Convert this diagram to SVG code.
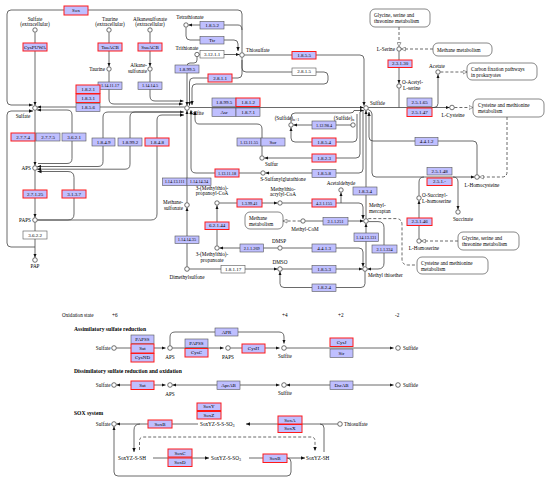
<svg xmlns="http://www.w3.org/2000/svg" width="550" height="484" viewBox="0 0 550 484">
<style>
.ln{fill:none;stroke:#444;stroke-width:0.8}
.ds{fill:none;stroke:#444;stroke-width:0.8;stroke-dasharray:3,2}
.e{fill:#bfbfff;stroke:#555;stroke-width:0.6}
.r{fill:#bfbfff;stroke:#ff1a1a;stroke-width:1}
.w{fill:#fff;stroke:#555;stroke-width:0.6}
.m{fill:#fff;stroke:#555;stroke-width:0.7}
.c{fill:#fff;stroke:#333;stroke-width:0.7}
text{font-family:"Liberation Serif","DejaVu Serif",serif;fill:#000}
.et{font-size:5px;text-anchor:middle;dominant-baseline:central}
.es{font-size:4.3px;text-anchor:middle;dominant-baseline:central}
.lb{font-size:5.2px}
.mid{text-anchor:middle}
.end{text-anchor:end}
.hd{font-size:5.6px;font-weight:bold}
</style>
<defs>
<marker id="a" viewBox="0 0 4 4" refX="4" refY="2" markerWidth="4" markerHeight="4" markerUnits="userSpaceOnUse" orient="auto-start-reverse"><path d="M0,0.3L4,2L0,3.7z" fill="#111"/></marker>
<marker id="h" viewBox="0 0 5 5" refX="4.5" refY="2.5" markerWidth="5" markerHeight="5" markerUnits="userSpaceOnUse" orient="auto-start-reverse"><path d="M0.5,0.5L4.5,2.5L0.5,4.5z" fill="#fff" stroke="#444" stroke-width="0.5"/></marker>
</defs>

<g id="connectors">
<!-- top-left -->
<path class="ln" d="M242,52.5V14Q242,10 238,10H11Q7,10 7,14V101Q7,105 11,105H32.8" marker-end="url(#a)"/>
<path class="ln" d="M35,247H11Q7,247 7,243V115Q7,111 11,111H33" marker-end="url(#a)"/>
<path class="ln" d="M35,32.5V105.5" marker-end="url(#a)"/>
<path class="ln" d="M109,32.5V66.5" marker-end="url(#a)"/>
<path class="ln" d="M150,32.5V66.5" marker-end="url(#a)"/>
<path class="ln" d="M109,71.5V99Q109,104 114,104H182.8" marker-end="url(#a)"/>
<path class="ln" d="M150,71.5V96Q150,101 155,101H183.5" marker-end="url(#a)"/>
<path class="ln" d="M37.3,107H184.7" marker-start="url(#a)"/>
<path class="ln" d="M242,30Q242,25 238,25H188.4" marker-end="url(#a)"/>
<path class="ln" d="M186,27.5V36Q186,40 190,40H234Q238,40 238,44V51" marker-end="url(#a)"/>
<path class="ln" d="M199.4,54.5H239.6" marker-end="url(#a)"/>
<path class="ln" d="M197,57V60Q197,63 194,63H190Q187,63 187,66V105.6" marker-end="url(#a)"/>
<path class="ln" d="M242,57.5V74Q242,78 238,78H193Q189.5,78 189.5,82V105.6" marker-end="url(#a)"/>
<path class="ln" d="M242,60V68Q242,72 246,72H324Q328,72 328,76V80Q328,84 324,84H196Q192,84 192,88V105" marker-end="url(#a)"/>
<path class="ln" d="M244.4,55H360Q364,55 364,59V105.8" marker-end="url(#a)"/>
<!-- sulfate / APS / PAPS -->
<path class="ln" d="M35,110.4V165.6" marker-end="url(#a)"/>
<path class="ln" d="M38,163.5H67Q72,163.5 72,158.5V115Q72,110 67,110H37.2" marker-end="url(#a)"/>
<path class="ln" d="M37.3,166.5H98Q103,166.5 103,161.5V117Q103,112 108,112H183.6" marker-start="url(#a)" marker-end="url(#a)"/>
<path class="ln" d="M37.2,169.2H125Q130,169.2 130,164.2V117Q130,112 135,112H183.6" marker-start="url(#a)"/>
<path class="ln" d="M37.5,171.5H68Q74,171.5 74,177.5V214Q74,220 68,220H37.4" marker-start="url(#a)"/>
<path class="ln" d="M37.4,220H151Q157,220 157,214V120Q157,115 162,115H184" marker-end="url(#a)"/>
<path class="ln" d="M35,170.4V217.6" marker-end="url(#a)"/>
<path class="ln" d="M35,222.4V257.6" marker-end="url(#a)"/>
<!-- sulfite outputs -->
<path class="ln" d="M189.4,107.5H363.6" marker-end="url(#a)"/>
<path class="ln" d="M187,202.6V110.4" marker-end="url(#a)"/>
<path class="ln" d="M260.6,173H196Q191,173 191,168V110.2" marker-end="url(#a)"/>
<path class="ln" d="M262,155.6V129Q262,124 257,124H199Q195,124 195,119V111" marker-end="url(#a)"/>
<path class="ln" d="M187,266.6V207.4" marker-end="url(#a)"/>
<path class="ln" d="M189.4,269H277.6" marker-end="url(#a)"/>
<!-- sulfide region -->
<path class="ln" d="M291,122.6V117Q291,113 295,113H350Q354,113 354,110.5H363.8" marker-end="url(#a)"/>
<path class="ln" d="M352.6,125H293.4" marker-end="url(#a)"/>
<path class="ln" d="M357,114V138Q357,142 353,142H295Q291,142 291,138V127.4" marker-end="url(#a)"/>
<path class="ln" d="M360,112V154Q360,158 356,158H264.4" marker-end="url(#a)"/>
<path class="ln" d="M363,110.5V169Q363,173 359,173H265.4" marker-end="url(#a)"/>
<path class="ln" d="M366,218.6V110.4" marker-end="url(#a)"/>
<path class="ln" d="M477,174.6V145Q477,141 473,141H373Q369,141 369,137V112" marker-end="url(#a)"/>
<path class="ln" d="M368.2,109.5Q372,111 372,114V173Q372,177 376,177H474.6" marker-end="url(#a)"/>
<path class="ln" d="M419,195.6V182Q419,177 424,177"/>
<path class="ln" d="M453,177Q458,177 458,182V209.6" marker-end="url(#a)"/>
<path class="ln" d="M419,238.6V200.4" marker-end="url(#a)"/>
<path class="ln" d="M368.4,107.5H449.6" marker-end="url(#a)"/>
<path class="ln" d="M399,88.4V107.5"/>
<path class="ln" d="M399,51.4V83.6" marker-end="url(#a)"/>
<path class="ln" d="M432,107.5H434Q438,107.5 438,103.5V74.4" marker-end="url(#a)"/>
<!-- DMSP region -->
<path class="ln" d="M217,245.6V205.4" marker-end="url(#a)"/>
<path class="ln" d="M219.4,203H277.6" marker-end="url(#a)"/>
<path class="ln" d="M282.4,203H359Q363,203 363,207V219" marker-end="url(#a)"/>
<path class="ln" d="M341,203V192.4" marker-end="url(#a)"/>
<path class="ln" d="M277.6,248H219.4" marker-end="url(#a)"/>
<path class="ln" d="M282.4,248H359Q363,248 363,252V266.8" marker-end="url(#a)"/>
<path class="ln" d="M305.4,221H363.6" marker-end="url(#a)"/>
<path class="ln" d="M366,266.6V223.4" marker-end="url(#a)"/>
<path class="ln" d="M368.4,221.6H378Q384,221.6 384,227.6V263Q384,269 378,269H367.4" marker-end="url(#a)"/>
<path class="ln" d="M282.4,269H362.6" marker-end="url(#a)"/>
<path class="ln" d="M365,271.4V283.5Q365,287.5 361,287.5H284Q280,287.5 280,283.5V271.4" marker-end="url(#a)"/>
<!-- dashed map links -->
<path class="ds" d="M399,27V46.6" marker-end="url(#h)"/>
<path class="ds" d="M433,49H401.4" marker-end="url(#h)"/>
<path class="ds" d="M440.4,72H467" marker-end="url(#h)"/>
<path class="ds" d="M454.4,107.5H473" marker-end="url(#h)"/>
<path class="ds" d="M507,117V172Q507,177 502,177H479.4" marker-end="url(#h)"/>
<path class="ds" d="M458,241H421.4" marker-end="url(#h)"/>
<path class="ds" d="M300.6,221H283" marker-end="url(#h)"/>
<path class="ds" d="M368.3,218.6H396Q402,218.6 402,224.6V259Q402,265 408,265H417"/>
<!-- bottom: assimilatory -->
<path class="ln" d="M116.4,348H165.6" marker-end="url(#a)"/>
<path class="ln" d="M170,345.6V337Q170,332 175,332H279Q284,332 284,337V343.6" marker-end="url(#a)"/>
<path class="ln" d="M172.4,348H223.6" marker-end="url(#a)"/>
<path class="ln" d="M230.4,348H279.6" marker-end="url(#a)"/>
<path class="ln" d="M286.4,348H393.6" marker-end="url(#a)"/>
<!-- dissimilatory -->
<path class="ln" d="M116.4,385H165.6" marker-start="url(#a)" marker-end="url(#a)"/>
<path class="ln" d="M172.4,385H279.6" marker-start="url(#a)" marker-end="url(#a)"/>
<path class="ln" d="M286.4,385H393.6" marker-start="url(#a)" marker-end="url(#a)"/>
<!-- sox -->
<path class="ln" d="M198,424H116.4" marker-end="url(#a)"/>
<path class="ln" d="M337.6,424H246" marker-end="url(#a)"/>
<path class="ln" d="M324,452V428Q324,424 320,424"/>
<path class="ln" d="M140,424Q134,424 134,430V452" marker-end="url(#a)"/>
<path class="ds" d="M139.5,450V441Q139.5,437 143.5,437H311Q315,437 315,441V451" marker-end="url(#a)"/>
<path class="ln" d="M153,458H209" marker-end="url(#a)"/>
<path class="ln" d="M249,458H305" marker-end="url(#a)"/>
<path class="ln" d="M287,458Q291,458 291,462V472Q291,476 287,476H118Q114,476 114,472V426.4" marker-end="url(#a)"/>
</g>

<!-- map boxes -->
<g id="map-gly1"><rect class="m" x="370" y="9" width="60" height="18" rx="5"/><text class="lb" x="374" y="16.5">Glycine, serine and</text><text class="lb" x="374" y="22.5">threonine metabolism</text></g>
<g id="map-methane1"><rect class="m" x="433" y="43" width="59" height="13" rx="5"/><text class="lb" x="437" y="51.5">Methane metabolism</text></g>
<g id="map-carbon"><rect class="m" x="467" y="63" width="70" height="17" rx="5"/><text class="lb" x="471" y="70.5">Carbon fixation pathways</text><text class="lb" x="471" y="76.5">in prokaryotes</text></g>
<g id="map-cys1"><rect class="m" x="473" y="99" width="71" height="18" rx="5"/><text class="lb" x="478" y="106.5">Cysteine and methionine</text><text class="lb" x="478" y="112.5">metabolism</text></g>
<g id="map-methane2"><rect class="m" x="245" y="212" width="38" height="17" rx="5"/><text class="lb" x="249" y="219.5">Methane</text><text class="lb" x="249" y="225.5">metabolism</text></g>
<g id="map-gly2"><rect class="m" x="458" y="232" width="61" height="18" rx="5"/><text class="lb" x="462" y="239.5">Glycine, serine and</text><text class="lb" x="462" y="245.5">threonine metabolism</text></g>
<g id="map-cys2"><rect class="m" x="417" y="257" width="71" height="17" rx="5"/><text class="lb" x="421" y="264.5">Cysteine and methionine</text><text class="lb" x="421" y="270.5">metabolism</text></g>

<!-- enzymes -->
<g id="e-sox"><rect class="r" x="64" y="6" width="24" height="9"/><text class="et" x="76" y="10.5">Sox</text></g>
<g id="e-cyspuwa"><rect class="r" x="23" y="43" width="24" height="8"/><text class="et" x="35" y="47">CysPUWA</text></g>
<g id="e-tauacb"><rect class="r" x="98" y="43" width="24" height="8"/><text class="et" x="110" y="47">TauACB</text></g>
<g id="e-ssuacb"><rect class="r" x="138" y="43" width="24" height="8"/><text class="et" x="150" y="47">SsuACB</text></g>
<g id="e-1141117"><rect class="e" x="98" y="82" width="24" height="7.5"/><text class="es" x="110" y="85.8">1.14.11.17</text></g>
<g id="e-114145"><rect class="e" x="138" y="82" width="24" height="7.5"/><text class="es" x="150" y="85.8">1.14.14.5</text></g>
<g id="e-1852"><rect class="e" x="200" y="21.5" width="24" height="7.5"/><text class="et" x="212" y="25.3">1.8.5.2</text></g>
<g id="e-ttr"><rect class="e" x="200" y="36.5" width="24" height="7.5"/><text class="et" x="212" y="40.3">Ttr</text></g>
<g id="e-31211"><rect class="w" x="200" y="50.5" width="24" height="7.5"/><text class="et" x="212" y="54.3">3.12.1.1</text></g>
<g id="e-18995a"><rect class="e" x="175" y="65" width="24" height="8"/><text class="et" x="187" y="69">1.8.99.5</text></g>
<g id="e-2811"><rect class="r" x="208" y="74" width="24" height="8"/><text class="et" x="220" y="78">2.8.1.1</text></g>
<g id="e-1855"><rect class="r" x="292" y="51.5" width="24" height="7.5"/><text class="et" x="304" y="55.3">1.8.5.5</text></g>
<g id="e-2815"><rect class="w" x="292" y="68" width="24" height="7.5"/><text class="et" x="304" y="71.8">2.8.1.5</text></g>
<g id="e-1821"><rect class="r" x="76" y="85" width="24" height="8.5"/><text class="et" x="88" y="89.3">1.8.2.1</text></g>
<g id="e-1831"><rect class="r" x="76" y="94" width="24" height="8.5"/><text class="et" x="88" y="98.3">1.8.3.1</text></g>
<g id="e-1856"><rect class="e" x="76" y="103.5" width="24" height="8"/><text class="et" x="88" y="107.5">1.8.5.6</text></g>
<g id="e-18995b"><rect class="e" x="212" y="98" width="24" height="8.5"/><text class="et" x="224" y="102.3">1.8.99.5</text></g>
<g id="e-1812"><rect class="r" x="236" y="98" width="24" height="8.5"/><text class="et" x="248" y="102.3">1.8.1.2</text></g>
<g id="e-asr"><rect class="e" x="212" y="108" width="24" height="8.5"/><text class="et" x="224" y="112.3">Asr</text></g>
<g id="e-1871"><rect class="e" x="236" y="108" width="24" height="8.5"/><text class="et" x="248" y="112.3">1.8.7.1</text></g>
<g id="e-2774"><rect class="r" x="11" y="133" width="24" height="8"/><text class="et" x="23" y="137">2.7.7.4</text></g>
<g id="e-2775"><rect class="e" x="36" y="133" width="24" height="8"/><text class="et" x="48" y="137">2.7.7.5</text></g>
<g id="e-3621"><rect class="e" x="62" y="133" width="24" height="8"/><text class="et" x="74" y="137">3.6.2.1</text></g>
<g id="e-1849"><rect class="e" x="92" y="138" width="23" height="8"/><text class="et" x="103.5" y="142">1.8.4.9</text></g>
<g id="e-18992"><rect class="e" x="118" y="138" width="24" height="8"/><text class="et" x="130" y="142">1.8.99.2</text></g>
<g id="e-1848"><rect class="r" x="145" y="138" width="24" height="8"/><text class="et" x="157" y="142">1.8.4.8</text></g>
<g id="e-27125"><rect class="r" x="23" y="190" width="24" height="8"/><text class="et" x="35" y="194">2.7.1.25</text></g>
<g id="e-3137"><rect class="r" x="62" y="190" width="24" height="8"/><text class="et" x="74" y="194">3.1.3.7</text></g>
<g id="e-3622"><rect class="w" x="23" y="231" width="24" height="8"/><text class="et" x="35" y="235">3.6.2.2</text></g>
<g id="e-11413111"><rect class="e" x="162.5" y="178" width="24.5" height="7.5"/><text class="es" x="174.7" y="181.8">1.14.13.111</text></g>
<g id="e-1141434"><rect class="e" x="187" y="178" width="24" height="7.5"/><text class="es" x="199" y="181.8">1.14.14.34</text></g>
<g id="e-1131118"><rect class="r" x="215" y="169" width="24" height="8"/><text class="es" x="227" y="173">1.13.11.18</text></g>
<g id="e-1131155"><rect class="e" x="237" y="138" width="24" height="8"/><text class="es" x="249" y="142">1.13.11.55</text></g>
<g id="e-sor"><rect class="e" x="261" y="138" width="24" height="8"/><text class="et" x="273" y="142">Sor</text></g>
<g id="e-112984"><rect class="e" x="312" y="121" width="24" height="8"/><text class="es" x="324" y="125">1.12.98.4</text></g>
<g id="e-1854"><rect class="r" x="312" y="138" width="24" height="8"/><text class="et" x="324" y="142">1.8.5.4</text></g>
<g id="e-1823"><rect class="r" x="312" y="154" width="24" height="8"/><text class="et" x="324" y="158">1.8.2.3</text></g>
<g id="e-1858"><rect class="e" x="312" y="169.5" width="24" height="8"/><text class="et" x="324" y="173.5">1.8.5.8</text></g>
<g id="e-1141435"><rect class="e" x="175" y="236" width="24" height="7.5"/><text class="es" x="187" y="239.8">1.14.14.35</text></g>
<g id="e-62144"><rect class="r" x="205" y="222" width="24" height="7.5"/><text class="et" x="217" y="225.8">6.2.1.44</text></g>
<g id="e-139941"><rect class="r" x="237" y="199" width="25" height="8"/><text class="es" x="249.5" y="203">1.3.99.41</text></g>
<g id="e-211269"><rect class="e" x="240" y="244" width="23.5" height="8"/><text class="es" x="251.7" y="248">2.1.1.269</text></g>
<g id="e-421155"><rect class="r" x="312" y="199" width="24" height="8"/><text class="es" x="324" y="203">4.2.1.155</text></g>
<g id="e-1834"><rect class="e" x="353" y="187" width="24" height="8"/><text class="et" x="365" y="191">1.8.3.4</text></g>
<g id="e-211251"><rect class="e" x="323" y="217.5" width="25" height="7.5"/><text class="es" x="335.5" y="221.3">2.1.1.251</text></g>
<g id="e-1141313"><rect class="e" x="354" y="233" width="24.5" height="8.5"/><text class="es" x="366.2" y="237.3">1.14.13.131</text></g>
<g id="e-211334"><rect class="e" x="372" y="245" width="25" height="8"/><text class="es" x="384.5" y="249">2.1.1.334</text></g>
<g id="e-4413"><rect class="e" x="312" y="244" width="24" height="8"/><text class="et" x="324" y="248">4.4.1.3</text></g>
<g id="e-18117"><rect class="w" x="221" y="265.5" width="24" height="7.5"/><text class="et" x="233" y="269.3">1.8.1.17</text></g>
<g id="e-1853"><rect class="e" x="312" y="265.5" width="24" height="7.5"/><text class="et" x="324" y="269.3">1.8.5.3</text></g>
<g id="e-1824"><rect class="e" x="312" y="284" width="24" height="7.5"/><text class="et" x="324" y="287.8">1.8.2.4</text></g>
<g id="e-23130"><rect class="r" x="388" y="60" width="24" height="7.5"/><text class="et" x="400" y="63.8">2.3.1.30</text></g>
<g id="e-25165"><rect class="e" x="407" y="98" width="25" height="8.5"/><text class="et" x="419.5" y="102.3">2.5.1.65</text></g>
<g id="e-25147"><rect class="r" x="407" y="108" width="25" height="8.5"/><text class="et" x="419.5" y="112.3">2.5.1.47</text></g>
<g id="e-4412"><rect class="e" x="415" y="137.5" width="23" height="8"/><text class="et" x="426.5" y="141.5">4.4.1.2</text></g>
<g id="e-25148"><rect class="e" x="427" y="167.5" width="25" height="7.5"/><text class="et" x="439.5" y="171.3">2.5.1.48</text></g>
<g id="e-251x"><rect class="r" x="427" y="178" width="25" height="7.5"/><text class="et" x="439.5" y="181.8">2.5.1.-</text></g>
<g id="e-23146"><rect class="r" x="407" y="218" width="25" height="7.5"/><text class="et" x="419.5" y="221.8">2.3.1.46</text></g>

<!-- compounds -->
<g id="c-sulfate-ext"><circle class="c" cx="35" cy="30" r="2.2"/><text class="lb mid" x="35" y="21">Sulfate</text><text class="lb mid" x="35" y="26.3">(extracellular)</text></g>
<g id="c-taurine-ext"><circle class="c" cx="109" cy="30" r="2.2"/><text class="lb mid" x="110" y="21">Taurine</text><text class="lb mid" x="110" y="26.3">(extracellular)</text></g>
<g id="c-alk-ext"><circle class="c" cx="150" cy="30" r="2.2"/><text class="lb mid" x="150" y="21">Alkanesulfonate</text><text class="lb mid" x="150" y="26.3">(extracellular)</text></g>
<g id="c-taurine"><circle class="c" cx="109" cy="69" r="2.2"/><text class="lb end" x="105" y="71">Taurine</text></g>
<g id="c-alk"><circle class="c" cx="150" cy="69" r="2.2"/><text class="lb end" x="147" y="67">Alkane-</text><text class="lb end" x="147" y="73">sulfonate</text></g>
<g id="c-sulfate"><circle class="c" cx="35" cy="108" r="2.3"/><text class="lb mid" x="23" y="118">Sulfate</text></g>
<g id="c-sulfite"><circle class="c" cx="187" cy="108" r="2.3"/><text class="lb" x="190" y="115">Sulfite</text></g>
<g id="c-tetrathionate"><circle class="c" cx="186" cy="25" r="2.2"/><text class="lb mid" x="190" y="19">Tetrathionate</text></g>
<g id="c-trithionate"><circle class="c" cx="197" cy="54.5" r="2.2"/><text class="lb mid" x="187" y="50">Trithionate</text></g>
<g id="c-thiosulfate"><circle class="c" cx="242" cy="55" r="2.3"/><text class="lb" x="246" y="52">Thiosulfate</text></g>
<g id="c-aps"><circle class="c" cx="35" cy="168" r="2.3"/><text class="lb end" x="31" y="170">APS</text></g>
<g id="c-paps"><circle class="c" cx="35" cy="220" r="2.3"/><text class="lb end" x="31" y="222">PAPS</text></g>
<g id="c-pap"><circle class="c" cx="35" cy="260" r="2.3"/><text class="lb mid" x="35" y="268">PAP</text></g>
<g id="c-methanesulfonate"><circle class="c" cx="187" cy="205" r="2.3"/><text class="lb end" x="183" y="204">Methane-</text><text class="lb end" x="183" y="209.5">sulfonate</text></g>
<g id="c-dimethylsulfone"><circle class="c" cx="187" cy="269" r="2.3"/><text class="lb mid" x="187" y="279">Dimethylsulfone</text></g>
<g id="c-sulfur"><circle class="c" cx="262" cy="158" r="2.2"/><text class="lb" x="265" y="166">Sulfur</text></g>
<g id="c-ssg"><circle class="c" cx="263" cy="173" r="2.2"/><text class="lb mid" x="283" y="181">S-Sulfanylglutathione</text></g>
<g id="c-sulfiden1"><circle class="c" cx="291" cy="125" r="2.2"/><text class="lb mid" x="287" y="120">(Sulfide)<tspan font-size="4" dy="1">n+1</tspan></text></g>
<g id="c-sulfiden"><circle class="c" cx="353" cy="125" r="2.2"/><text class="lb mid" x="344" y="120">(Sulfide)<tspan font-size="4" dy="1">n</tspan></text></g>
<g id="c-sulfide"><circle class="c" cx="366" cy="108" r="2.3"/><text class="lb" x="370" y="105">Sulfide</text></g>
<g id="c-mtpcoa"><circle class="c" cx="217" cy="203" r="2.2"/><text class="lb mid" x="212" y="189.5">3-(Methylthio)-</text><text class="lb mid" x="212" y="195">propanoyl-CoA</text></g>
<g id="c-mtacoa"><circle class="c" cx="280" cy="203" r="2.2"/><text class="lb mid" x="283" y="190.5">Methylthio-</text><text class="lb mid" x="283" y="196">acrylyl-CoA</text></g>
<g id="c-mtp"><circle class="c" cx="217" cy="248" r="2.2"/><text class="lb mid" x="212" y="256">3-(Methylthio)-</text><text class="lb mid" x="212" y="261.5">propanoate</text></g>
<g id="c-dmsp"><circle class="c" cx="280" cy="248" r="2.2"/><text class="lb mid" x="279" y="243">DMSP</text></g>
<g id="c-acetaldehyde"><circle class="c" cx="341" cy="190" r="2.2"/><text class="lb mid" x="341" y="184.5">Acetaldehyde</text></g>
<g id="c-methanethiol"><circle class="c" cx="366" cy="221" r="2.3"/><text class="lb" x="369" y="207">Methyl-</text><text class="lb" x="369" y="212.5">mercaptan</text></g>
<g id="c-methylcom"><circle class="c" cx="303" cy="221" r="2.2"/><text class="lb mid" x="305" y="231">Methyl-CoM</text></g>
<g id="c-dmso"><circle class="c" cx="280" cy="269" r="2.3"/><text class="lb mid" x="280" y="263.5">DMSO</text></g>
<g id="c-dms"><circle class="c" cx="365" cy="269" r="2.3"/><text class="lb" x="368" y="277">Methyl thioether</text></g>
<g id="c-lserine"><circle class="c" cx="399" cy="49" r="2.2"/><text class="lb end" x="395" y="51">L-Serine</text></g>
<g id="c-oas"><circle class="c" cx="399" cy="86" r="2.2"/><text class="lb" x="402" y="84">O-Acetyl-</text><text class="lb" x="403" y="90">L-serine</text></g>
<g id="c-acetate"><circle class="c" cx="438" cy="72" r="2.2"/><text class="lb mid" x="437" y="68">Acetate</text></g>
<g id="c-lcys"><circle class="c" cx="452" cy="107.5" r="2.3"/><text class="lb mid" x="453" y="117">L-Cysteine</text></g>
<g id="c-lhcys"><circle class="c" cx="477" cy="177" r="2.3"/><text class="lb mid" x="482" y="186.5">L-Homocysteine</text></g>
<g id="c-osh"><circle class="c" cx="419" cy="198" r="2.2"/><text class="lb" x="422" y="197">O-Succinyl-</text><text class="lb" x="422" y="203">L-homoserine</text></g>
<g id="c-succinate"><circle class="c" cx="458" cy="212" r="2.2"/><text class="lb mid" x="463" y="221">Succinate</text></g>
<g id="c-lhser"><circle class="c" cx="419" cy="241" r="2.2"/><text class="lb mid" x="424" y="250">L-Homoserine</text></g>

<!-- bottom panel -->
<g id="hdr"><text class="lb" x="62" y="317">Oxidation state</text><text class="lb" x="112" y="317">+6</text><text class="lb" x="282" y="317">+4</text><text class="lb" x="338" y="317">+2</text><text class="lb" x="395" y="317">-2</text></g>
<text class="hd" x="74" y="330.5">Assimilatory sulfate reduction</text>
<text class="hd" x="74" y="372.5">Dissimilatory sulfate reduction and oxidation</text>
<text class="hd" x="74" y="415">SOX system</text>

<g id="b-papss1"><rect class="e" x="131" y="335" width="23" height="8.5"/><text class="et" x="142.5" y="339.3">PAPSS</text></g>
<g id="b-sat1"><rect class="r" x="131" y="344" width="23" height="9"/><text class="et" x="142.5" y="348.5">Sat</text></g>
<g id="b-cysnd"><rect class="r" x="131" y="353.5" width="23" height="8.5"/><text class="et" x="142.5" y="357.8">CysND</text></g>
<g id="b-apr"><rect class="e" x="215" y="328" width="23" height="8"/><text class="et" x="226.5" y="332">APR</text></g>
<g id="b-papss2"><rect class="e" x="185" y="339" width="23" height="8.5"/><text class="et" x="196.5" y="343.3">PAPSS</text></g>
<g id="b-cysc"><rect class="r" x="185" y="348.5" width="23" height="8.5"/><text class="et" x="196.5" y="352.8">CysC</text></g>
<g id="b-cysh"><rect class="r" x="242" y="344" width="23" height="9"/><text class="et" x="253.5" y="348.5">CysH</text></g>
<g id="b-cysj"><rect class="r" x="330" y="338" width="23" height="8.5"/><text class="et" x="341.5" y="342.3">CysJ</text></g>
<g id="b-sir"><rect class="e" x="330" y="349" width="23" height="8.5"/><text class="et" x="341.5" y="353.3">Sir</text></g>
<g id="b-sat2"><rect class="r" x="131" y="381" width="23" height="8.5"/><text class="et" x="142.5" y="385.3">Sat</text></g>
<g id="b-aprab"><rect class="e" x="217" y="381" width="23" height="8.5"/><text class="et" x="228.5" y="385.3">AprAB</text></g>
<g id="b-dsrab"><rect class="e" x="330" y="381" width="23" height="8.5"/><text class="et" x="341.5" y="385.3">DsrAB</text></g>
<g id="b-soxb1"><rect class="r" x="148" y="420" width="24" height="8"/><text class="et" x="160" y="424">SoxB</text></g>
<g id="b-soxy"><rect class="r" x="197" y="403" width="24" height="7.5"/><text class="et" x="209" y="406.8">SoxY</text></g>
<g id="b-soxz"><rect class="r" x="197" y="411.5" width="24" height="7.5"/><text class="et" x="209" y="415.3">SoxZ</text></g>
<g id="b-soxa"><rect class="r" x="278" y="416" width="24" height="8"/><text class="et" x="290" y="420">SoxA</text></g>
<g id="b-soxx"><rect class="r" x="278" y="424.5" width="24" height="8"/><text class="et" x="290" y="428.5">SoxX</text></g>
<g id="b-soxc"><rect class="r" x="168" y="449" width="24" height="8"/><text class="et" x="180" y="453">SoxC</text></g>
<g id="b-soxd"><rect class="r" x="168" y="458" width="24" height="8.5"/><text class="et" x="180" y="462.3">SoxD</text></g>
<g id="b-soxb2"><rect class="r" x="263" y="454" width="24" height="8.5"/><text class="et" x="275" y="458.3">SoxB</text></g>

<g id="bc-sulfate1"><circle class="c" cx="114" cy="348" r="2.3"/><text class="lb end" x="110.5" y="350">Sulfate</text></g>
<g id="bc-aps1"><circle class="c" cx="170" cy="348" r="2.3"/><text class="lb mid" x="170" y="358.5">APS</text></g>
<g id="bc-paps"><circle class="c" cx="228" cy="348" r="2.3"/><text class="lb mid" x="228" y="358.5">PAPS</text></g>
<g id="bc-sulfite1"><circle class="c" cx="284" cy="348" r="2.3"/><text class="lb mid" x="285" y="357.5">Sulfite</text></g>
<g id="bc-sulfide1"><circle class="c" cx="398" cy="348" r="2.3"/><text class="lb" x="403" y="350">Sulfide</text></g>
<g id="bc-sulfate2"><circle class="c" cx="114" cy="385" r="2.3"/><text class="lb end" x="110.5" y="387">Sulfate</text></g>
<g id="bc-aps2"><circle class="c" cx="170" cy="385" r="2.3"/><text class="lb mid" x="170" y="395.5">APS</text></g>
<g id="bc-sulfite2"><circle class="c" cx="284" cy="385" r="2.3"/><text class="lb mid" x="285" y="394.5">Sulfite</text></g>
<g id="bc-sulfide2"><circle class="c" cx="398" cy="385" r="2.3"/><text class="lb" x="403" y="387">Sulfide</text></g>
<g id="bc-sulfate3"><circle class="c" cx="114" cy="424" r="2.3"/><text class="lb end" x="110.5" y="426">Sulfate</text></g>
<g id="bc-thiosulfate"><circle class="c" cx="340" cy="424" r="2.3"/><text class="lb" x="344" y="426">Thiosulfate</text></g>
<g id="bt-ssso3"><text class="lb" x="200" y="426">SoxYZ-S-S-SO<tspan font-size="4" dy="0.8">3</tspan></text></g>
<g id="bt-ssh"><text class="lb" x="118" y="460">SoxYZ-S-SH</text></g>
<g id="bt-sso3"><text class="lb" x="211" y="460">SoxYZ-S-SO<tspan font-size="4" dy="0.8">3</tspan></text></g>
<g id="bt-sh"><text class="lb" x="306" y="460">SoxYZ-SH</text></g>
</svg>
